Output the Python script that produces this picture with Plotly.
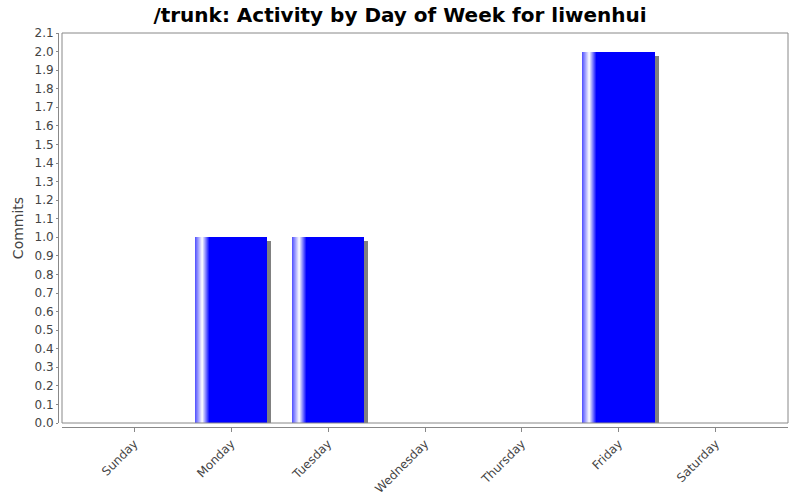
import plotly.graph_objects as go

# ---- data ----
days = ["Sunday", "Monday", "Tuesday", "Wednesday", "Thursday", "Friday", "Saturday"]
commits = [0, 1, 1, 0, 0, 2, 0]
y_ticks = [round(i * 0.1, 1) for i in range(22)]
title_text = "/trunk: Activity by Day of Week for liwenhui"
y_title = "Commits"

# ---- layout geometry (pixels) ----
W, H = 800, 500
plot_l, plot_r, plot_t, plot_b = 62, 788, 33, 423
yaxis_line_x = 58
xaxis_line_y = 427
x_range = [-0.746, 6.746]
y_range = [0, 2.1]
px_per_x = (plot_r - plot_l) / (x_range[1] - x_range[0])
px_per_y = (plot_b - plot_t) / (y_range[1] - y_range[0])
bar_w = 72 / px_per_x
shadow_dx = 4 / px_per_x
shadow_dy = 4 / px_per_y

xs = list(range(len(days)))
fig = go.Figure()

# shadow
fig.add_trace(go.Bar(
    x=xs, y=[(v - shadow_dy) if v > 0 else None for v in commits],
    width=bar_w, offset=-bar_w / 2 + shadow_dx,
    marker=dict(color="#808080", line=dict(width=0)),
    showlegend=False, hoverinfo="skip"))

# base bar
fig.add_trace(go.Bar(
    x=xs, y=commits, width=bar_w, offset=-bar_w / 2,
    marker=dict(color="#0000ff", line=dict(width=0)),
    showlegend=False, name="Commits"))

# gradient stripes (JFreeChart-like GradientBarPainter)
g1 = 0.10 * 72
g2 = 0.20 * 72
n = int(g2) + 1
for i in range(n):
    t = i + 0.5
    if t < g1:
        f = 0.3 + 0.7 * t / g1
    else:
        f = max(0.0, (g2 - t) / (g2 - g1))
    r = int(round(255 * f))
    col = f"rgb({r},{r},255)"
    fig.add_trace(go.Bar(
        x=xs, y=commits, width=1.3 / px_per_x,
        offset=-bar_w / 2 + i / px_per_x,
        marker=dict(color=col, line=dict(width=0)),
        showlegend=False, hoverinfo="skip"))

# plot border
fig.add_shape(type="rect", xref="x domain", yref="y domain", x0=0, x1=1, y0=0, y1=1,
              line=dict(color="#888888", width=1), fillcolor="rgba(0,0,0,0)", layer="above")

axis_font = dict(family="DejaVu Sans", size=12, color="#444444")
fig.update_layout(
    template="none",
    width=W, height=H,
    margin=dict(l=0, r=0, t=0, b=0, autoexpand=False),
    paper_bgcolor="white", plot_bgcolor="white",
    barmode="overlay", bargap=0,
    title=dict(text=f"<b>{title_text}</b>", x=0.5, xanchor="center", xref="paper",
               y=1 - 15 / H, yanchor="middle", yref="container",
               font=dict(family="DejaVu Sans", size=20, color="black")),
    xaxis=dict(
        domain=[plot_l / W, plot_r / W], range=x_range, automargin=False,
        anchor="free", position=1 - xaxis_line_y / H,
        tickmode="array", tickvals=xs, ticktext=days, tickangle=-45,
        ticks="outside", ticklen=4, tickcolor="#888888",
        showline=True, linecolor="#888888", linewidth=1,
        showgrid=False, zeroline=False, tickfont=axis_font),
    yaxis=dict(
        domain=[1 - plot_b / H, 1 - plot_t / H], range=y_range, automargin=False,
        anchor="free", position=yaxis_line_x / W,
        tickmode="array", tickvals=y_ticks, ticktext=[f"{v:.1f}" for v in y_ticks],
        ticks="outside", ticklen=2, tickcolor="#888888",
        showline=True, linecolor="#888888", linewidth=1,
        showgrid=False, zeroline=False, tickfont=axis_font,
        title=dict(text=y_title, font=dict(family="DejaVu Sans", size=14, color="#444444"), standoff=6)),
)

fig.write_html(
    "out.html",
    config={"displayModeBar": False},
    post_script="document.body.style.margin='0';document.body.style.overflow='hidden';",
)
